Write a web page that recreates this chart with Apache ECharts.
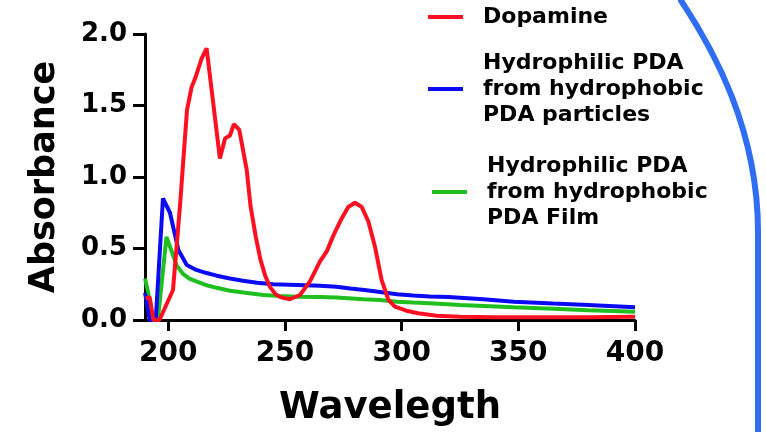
<!DOCTYPE html>
<html>
<head>
    <meta charset="utf-8" />
    <title>Absorbance</title>
    <script src="https://cdn.jsdelivr.net/npm/echarts@6/dist/echarts.min.js"></script>
    <style>
        html, body { margin: 0; padding: 0; background: #fff; overflow: hidden; }
        #chart { width: 766px; height: 432px; }
    </style>
</head>
<body>
    <div id="chart"></div>
    <script type="text/javascript">
        // data
        var dopamineWl = [190.3, 192, 193.6, 196.2, 202, 205, 208, 210, 211.5, 214.3, 216.4, 222.1, 224.3, 226.4, 228.1, 230.4, 233.6, 235.2, 237.5, 239.5, 241.5, 243.6, 246, 248, 252, 256.4, 260.7, 265, 267.9, 270.7, 274.3, 277.1, 280, 282.9, 285.7, 288.6, 291.4, 294.3, 297.1, 302, 307, 315, 325, 340, 360, 380, 400];
        var dopamineAbs = [0.15, 0.16, 0, 0, 0.21, 0.8, 1.47, 1.63, 1.69, 1.83, 1.9, 1.13, 1.27, 1.29, 1.37, 1.33, 1.05, 0.8, 0.58, 0.42, 0.31, 0.23, 0.18, 0.16, 0.145, 0.175, 0.27, 0.41, 0.48, 0.59, 0.71, 0.79, 0.82, 0.79, 0.69, 0.51, 0.28, 0.14, 0.093, 0.065, 0.047, 0.03, 0.022, 0.02, 0.02, 0.02, 0.022];

        var particlesWl = [190, 190.8, 192, 194.6, 197.7, 200.7, 204.3, 207.9, 212, 216, 220.7, 226.4, 232, 238, 245, 255, 265, 272, 278, 284, 290, 298, 305, 312, 320, 335, 348, 365, 380, 400];
        var particlesAbs = [0.19, 0.12, 0, 0, 0.85, 0.75, 0.49, 0.385, 0.35, 0.33, 0.31, 0.29, 0.275, 0.26, 0.25, 0.245, 0.24, 0.233, 0.22, 0.21, 0.198, 0.18, 0.172, 0.165, 0.16, 0.145, 0.128, 0.115, 0.105, 0.09];

        var filmWl = [190, 191.4, 192.9, 194, 195.5, 199.2, 201, 203.6, 206.4, 209, 212, 216, 220.7, 226.4, 233, 240.7, 248, 255, 265, 272, 283.6, 290.7, 298, 305, 312, 325, 348, 365, 380, 400];
        var filmAbs = [0.29, 0.19, 0.02, 0, 0, 0.58, 0.5, 0.38, 0.32, 0.29, 0.27, 0.245, 0.225, 0.205, 0.19, 0.175, 0.168, 0.163, 0.16, 0.157, 0.145, 0.14, 0.128, 0.122, 0.117, 0.105, 0.089, 0.078, 0.068, 0.058];

        var xTicks = [200, 250, 300, 350, 400];

        var names = [
            'Dopamine',
            'Hydrophilic PDA\nfrom hydrophobic\nPDA particles',
            'Hydrophilic PDA\nfrom hydrophobic\nPDA Film'
        ];

        function pairs(xs, ys) {
            var out = [];
            for (var i = 0; i < xs.length; i++) {
                out.push([xs[i], ys[i]]);
            }
            return out;
        }

        var font = 'DejaVu Sans';
        var legendText = {
            fontFamily: font,
            fontWeight: 'bold',
            fontSize: 22,
            lineHeight: 26,
            color: '#000',
            padding: [0, 0, 0, 15]
        };

        function legendAt(name, left, top) {
            return {
                data: [name],
                left: left,
                top: top,
                orient: 'vertical',
                padding: 0,
                icon: 'rect',
                itemWidth: 35,
                itemHeight: 4,
                selectedMode: false,
                textStyle: legendText
            };
        }

        var myChart = echarts.init(document.getElementById('chart'));

        myChart.setOption({
            animation: false,
            backgroundColor: '#fff',
            grid: {
                left: 145,
                right: 131,
                top: 34,
                bottom: 112,
                outerBoundsMode: 'none'
            },
            legend: [
                legendAt(names[0], 428, 4),
                legendAt(names[1], 428, 50),
                legendAt(names[2], 432, 153)
            ],
            xAxis: {
                type: 'value',
                min: 190,
                max: 400,
                name: 'Wavelegth',
                nameLocation: 'middle',
                nameGap: 70,
                nameTextStyle: {
                    fontFamily: font,
                    fontWeight: 'bold',
                    fontSize: 37,
                    color: '#000'
                },
                axisLine: { lineStyle: { color: '#000', width: 3 } },
                axisTick: {
                    customValues: xTicks,
                    length: 11,
                    lineStyle: { color: '#000', width: 3 }
                },
                axisLabel: {
                    customValues: xTicks,
                    margin: 20,
                    fontFamily: font,
                    fontWeight: 'bold',
                    fontSize: 28,
                    color: '#000'
                },
                splitLine: { show: false }
            },
            yAxis: {
                type: 'value',
                min: 0,
                max: 2,
                interval: 0.5,
                name: 'Absorbance',
                nameLocation: 'middle',
                nameGap: 83,
                nameTextStyle: {
                    fontFamily: font,
                    fontWeight: 'bold',
                    fontSize: 35,
                    color: '#000'
                },
                axisLine: { show: true, lineStyle: { color: '#000', width: 3 } },
                axisTick: {
                    show: true,
                    length: 12,
                    lineStyle: { color: '#000', width: 3 }
                },
                axisLabel: {
                    margin: 18,
                    fontFamily: font,
                    fontWeight: 'bold',
                    fontSize: 26,
                    color: '#000',
                    formatter: function (v) { return v.toFixed(1); }
                },
                splitLine: { show: false }
            },
            series: [{
                name: names[2],
                type: 'line',
                showSymbol: false,
                symbol: 'none',
                color: '#1fbf1f',
                lineStyle: { width: 4, color: '#1fbf1f' },
                data: pairs(filmWl, filmAbs)
            }, {
                name: names[1],
                type: 'line',
                showSymbol: false,
                symbol: 'none',
                color: '#0a0af5',
                lineStyle: { width: 4, color: '#0a0af5' },
                data: pairs(particlesWl, particlesAbs)
            }, {
                name: names[0],
                type: 'line',
                showSymbol: false,
                symbol: 'none',
                color: '#ff1020',
                lineStyle: { width: 4, color: '#ff1020' },
                data: pairs(dopamineWl, dopamineAbs)
            }],
            // blue frame edge cut off at the right of the picture
            graphic: [{
                type: 'bezierCurve',
                z: 100,
                shape: { x1: 680, y1: -1, cpx1: 714, cpy1: 50, cpx2: 758, cpy2: 130, x2: 758, y2: 232 },
                style: { stroke: '#2f6ef2', lineWidth: 6, fill: null }
            }, {
                type: 'rect',
                z: 100,
                shape: { x: 755, y: 228, width: 6, height: 206 },
                style: { fill: '#2f6ef2' }
            }]
        });
    </script>
</body>
</html>
